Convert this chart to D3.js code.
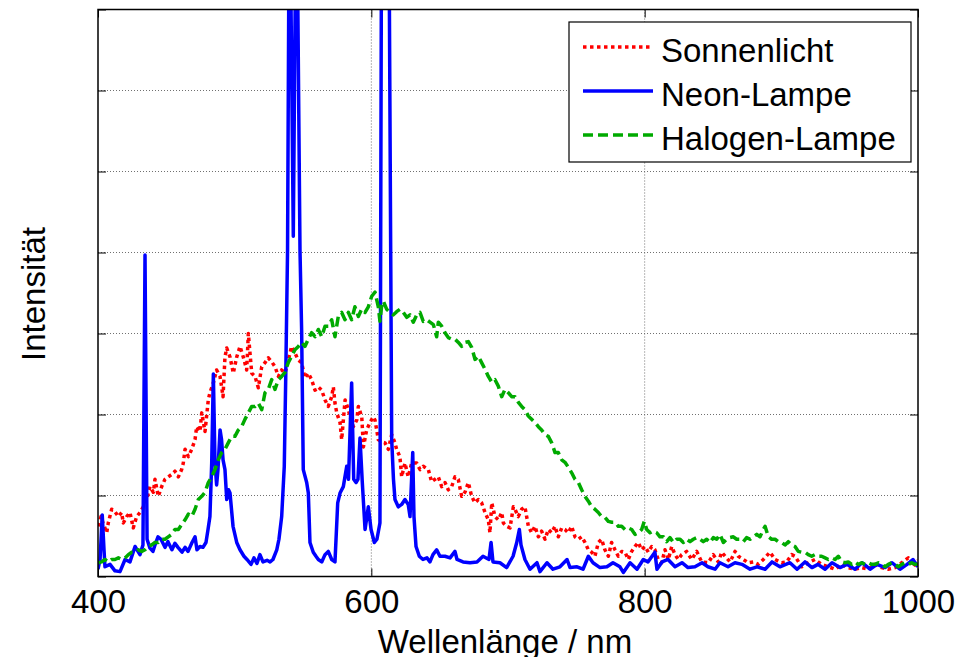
<!DOCTYPE html>
<meta charset="utf-8">
<style>
  body {
    margin: 0;
    background: #fff;
  }
  text {
    font-family: "Liberation Sans", Arial, sans-serif;
    fill: #000;
  }
  .grid line {
    stroke: #707070;
    stroke-width: 1;
    stroke-dasharray: 1,2;
  }
  .axis path {
    display: none;
  }
  .axis line {
    stroke: #000;
  }
  path.series {
    fill: none;
    stroke-width: 3.5;
    stroke-linejoin: round;
  }
</style>

<body>

  <div id="chart"></div>

  <script src="https://d3js.org/d3.v7.min.js"></script>

  <script>

    // [wavelength nm, intensity]
    var sunlight = [[400.2,0.62],[402.2,0.74],[403.7,0.66],[406.4,0.54],[407.5,0.66],[410.0,0.83],[412.4,0.80],[414.9,0.74],[417.3,0.79],[418.5,0.66],[421.0,0.74],[423.4,0.79],[425.8,0.60],[428.3,0.74],[430.7,0.79],[433.1,0.86],[435.6,0.95],[438.0,1.11],[440.5,1.04],[441.7,1.20],[444.1,0.99],[446.6,1.11],[449.0,1.20],[451.4,1.23],[453.9,1.26],[456.3,1.30],[458.8,1.23],[461.2,1.32],[462.4,1.40],[463.7,1.57],[466.1,1.48],[468.6,1.57],[471.0,1.69],[472.2,1.85],[474.6,1.79],[475.9,2.02],[478.3,1.79],[480.7,2.18],[481.9,2.27],[484.4,2.39],[486.8,2.55],[489.3,2.47],[491.5,2.22],[492.9,2.71],[494.2,2.82],[496.6,2.71],[499.0,2.51],[501.5,2.71],[503.9,2.84],[506.3,2.71],[508.8,2.55],[510.0,3.00],[511.2,2.76],[512.5,2.51],[514.9,2.47],[517.3,2.33],[519.8,2.59],[522.2,2.64],[524.6,2.70],[527.1,2.65],[529.5,2.59],[532.0,2.47],[534.4,2.55],[536.8,2.51],[539.2,2.67],[541.7,2.84],[544.1,2.76],[546.6,2.67],[549.0,2.64],[551.4,2.45],[553.9,2.51],[556.3,2.43],[558.8,2.30],[561.2,2.34],[563.7,2.30],[566.1,2.18],[568.5,2.10],[571.0,2.22],[572.2,2.34],[573.4,2.14],[574.7,2.02],[577.1,1.90],[578.3,1.69],[580.8,2.18],[583.2,2.06],[584.4,1.97],[586.8,1.85],[589.3,1.93],[590.5,2.10],[593.0,1.97],[594.2,1.60],[596.6,1.81],[599.0,1.90],[601.4,1.97],[602.7,1.93],[605.1,1.69],[607.6,1.66],[610.0,1.65],[612.4,1.57],[614.9,1.75],[617.3,1.65],[618.5,1.57],[620.9,1.48],[622.2,1.23],[624.6,1.40],[627.0,1.23],[629.5,1.40],[633.2,1.40],[635.6,1.32],[638.0,1.36],[641.7,1.32],[644.1,1.17],[646.6,1.20],[649.0,1.23],[651.5,1.11],[653.9,1.16],[656.3,1.07],[658.8,1.11],[661.2,1.23],[663.6,1.20],[666.1,0.99],[668.5,1.04],[671.0,1.16],[673.4,0.99],[675.8,0.91],[678.3,0.95],[680.7,0.91],[683.2,0.79],[685.6,0.70],[686.8,0.54],[688.1,0.91],[690.5,0.74],[692.9,0.70],[695.4,0.79],[696.6,0.66],[699.0,0.62],[701.5,0.60],[703.9,0.86],[705.1,0.83],[707.5,0.74],[710.0,0.83],[712.4,0.86],[714.9,0.62],[717.3,0.54],[719.7,0.62],[722.2,0.49],[724.6,0.56],[727.1,0.46],[729.5,0.58],[731.9,0.54],[734.4,0.62],[736.8,0.49],[739.3,0.60],[741.7,0.58],[744.1,0.54],[746.6,0.62],[749.0,0.49],[751.4,0.46],[753.9,0.49],[756.3,0.42],[758.8,0.33],[761.2,0.30],[763.6,0.25],[766.1,0.42],[768.5,0.46],[770.9,0.33],[773.4,0.25],[775.8,0.42],[778.3,0.33],[780.7,0.25],[783.2,0.31],[785.6,0.30],[788.0,0.21],[790.5,0.31],[792.9,0.37],[795.3,0.42],[797.8,0.33],[800.2,0.37],[802.7,0.30],[805.1,0.37],[807.5,0.33],[809.9,0.21],[812.4,0.17],[814.9,0.33],[817.3,0.21],[819.8,0.37],[822.2,0.27],[824.6,0.21],[827.1,0.27],[830.7,0.31],[834.4,0.21],[838.1,0.31],[841.7,0.18],[846.6,0.17],[850.2,0.27],[853.9,0.18],[856.4,0.30],[858.8,0.25],[862.5,0.18],[866.1,0.31],[868.5,0.25],[872.2,0.21],[875.8,0.17],[879.5,0.18],[883.1,0.15],[886.8,0.21],[891.7,0.30],[895.4,0.21],[900.2,0.17],[903.9,0.18],[907.6,0.27],[910.0,0.25],[914.9,0.12],[919.7,0.17],[924.6,0.21],[929.5,0.15],[934.4,0.12],[939.3,0.09],[944.2,0.15],[949.0,0.11],[953.9,0.09],[958.8,0.11],[963.6,0.09],[968.5,0.15],[973.4,0.11],[978.3,0.09],[983.2,0.11],[988.1,0.17],[992.9,0.23],[996.6,0.12],[1000,0.20]];

    // peaks above the frame are set to 9 and clipped
    var neon = [[400.0,0.09],[401.5,0.21],[403.1,0.76],[404.4,0.33],[405.1,0.12],[408.8,0.15],[412.4,0.07],[416.1,0.06],[419.8,0.21],[423.4,0.18],[427.1,0.37],[430.7,0.27],[432.9,0.39],[434.4,3.97],[435.9,0.46],[438.0,0.35],[440.2,0.31],[441.7,0.39],[443.9,0.49],[446.1,0.46],[449.0,0.36],[451.2,0.43],[454.1,0.33],[456.3,0.41],[458.5,0.36],[461.5,0.30],[463.7,0.36],[465.9,0.31],[468.8,0.42],[471.0,0.49],[472.4,0.33],[474.6,0.37],[476.8,0.36],[479.0,0.42],[480.5,0.58],[481.9,0.74],[483.2,1.40],[484.4,2.50],[485.6,1.40],[486.8,1.13],[487.8,1.32],[489.3,1.81],[490.4,1.69],[491.5,1.44],[492.9,1.32],[494.2,0.95],[495.5,1.07],[496.6,1.03],[498.8,0.62],[501.5,0.42],[503.9,0.33],[506.8,0.25],[509.0,0.21],[512.0,0.15],[514.1,0.23],[516.3,0.16],[518.5,0.27],[520.7,0.18],[523.7,0.20],[525.9,0.18],[528.0,0.21],[530.8,0.33],[532.4,0.46],[534.4,0.74],[536.3,1.36],[537.3,2.39],[538.7,4.03],[540.1,9],[542.9,4.20],[545.2,9],[547.8,4.03],[549.0,3.04],[550.2,1.32],[552.7,1.16],[553.9,1.03],[555.1,0.42],[557.5,0.30],[559.5,0.25],[561.2,0.21],[563.7,0.18],[566.1,0.27],[568.5,0.31],[571.0,0.21],[573.4,0.18],[575.4,0.91],[577.1,1.03],[579.5,1.11],[582.0,1.36],[583.3,1.20],[585.6,2.39],[587.1,1.20],[588.8,1.16],[590.2,1.20],[591.7,1.71],[593.4,1.16],[595.4,0.58],[597.8,0.86],[599.8,0.58],[602.2,0.42],[604.1,0.46],[606.3,0.66],[607.6,9],[612.6,9],[614.9,1.69],[616.2,1.20],[617.3,0.95],[619.7,0.86],[622.2,0.89],[624.6,0.95],[627.0,0.89],[628.3,0.74],[630.3,1.53],[631.2,0.74],[632.7,0.37],[635.1,0.25],[637.8,0.21],[640.7,0.23],[642.9,0.18],[645.1,0.27],[647.8,0.33],[650.2,0.25],[653.9,0.25],[657.6,0.23],[661.2,0.31],[662.7,0.21],[667.1,0.18],[672.2,0.17],[677.3,0.18],[681.7,0.25],[686.1,0.21],[687.6,0.42],[689.0,0.18],[694.1,0.17],[699.0,0.11],[703.7,0.25],[706.4,0.42],[708.3,0.58],[709.5,0.39],[712.4,0.21],[716.1,0.09],[721.2,0.17],[723.4,0.06],[728.5,0.17],[732.9,0.09],[738.0,0.12],[743.2,0.21],[745.4,0.11],[750.5,0.12],[754.9,0.09],[758.8,0.25],[762.2,0.17],[767.3,0.11],[772.4,0.12],[776.8,0.17],[781.9,0.12],[784.4,0.05],[789.3,0.17],[794.4,0.09],[799.0,0.21],[802.4,0.18],[805.4,0.25],[807.5,0.30],[809.0,0.09],[812.7,0.18],[817.1,0.21],[822.2,0.12],[827.3,0.17],[831.7,0.11],[836.8,0.12],[842.0,0.17],[846.3,0.12],[851.5,0.09],[855.1,0.17],[861.0,0.12],[866.1,0.17],[871.2,0.15],[877.1,0.09],[882.2,0.12],[888.1,0.09],[893.2,0.18],[899.0,0.12],[906.3,0.17],[911.5,0.09],[917.3,0.18],[922.4,0.11],[926.8,0.15],[932.0,0.09],[937.1,0.17],[942.9,0.11],[948.0,0.15],[953.9,0.09],[959.0,0.17],[964.9,0.09],[970.0,0.15],[975.9,0.11],[981.0,0.17],[986.8,0.09],[992.0,0.15],[996.3,0.21],[1000,0.12]];

    var halogen = [[400.2,0.17],[402.7,0.18],[405.1,0.21],[407.5,0.18],[410.0,0.21],[412.4,0.21],[414.9,0.23],[417.3,0.21],[419.8,0.23],[422.2,0.27],[424.7,0.30],[427.1,0.30],[429.5,0.33],[432.0,0.31],[434.4,0.33],[436.8,0.37],[439.3,0.39],[441.7,0.42],[444.1,0.42],[446.6,0.46],[449.0,0.46],[451.4,0.49],[453.9,0.52],[456.3,0.58],[458.8,0.58],[461.2,0.64],[463.7,0.70],[466.1,0.77],[468.6,0.74],[471.0,0.83],[473.4,0.95],[475.9,0.99],[478.3,1.04],[480.7,1.16],[483.2,1.23],[485.6,1.32],[488.0,1.44],[490.5,1.53],[492.9,1.57],[495.3,1.65],[497.8,1.73],[500.2,1.73],[502.7,1.81],[505.1,1.85],[507.5,1.94],[510.0,2.02],[512.5,2.10],[514.9,2.10],[517.3,2.14],[519.8,2.06],[522.2,2.27],[524.6,2.31],[527.1,2.43],[529.5,2.31],[532.0,2.43],[534.4,2.47],[536.8,2.52],[539.2,2.64],[541.7,2.72],[544.1,2.80],[546.6,2.84],[549.0,2.89],[551.4,2.84],[553.9,2.93],[556.3,3.01],[558.8,2.96],[561.2,3.05],[563.7,2.96],[566.1,3.09],[568.5,3.09],[571.0,3.17],[573.4,2.96],[575.8,3.21],[578.3,3.26],[580.7,3.17],[583.2,3.26],[585.6,3.17],[588.0,3.33],[590.5,3.21],[592.9,3.30],[595.4,3.26],[597.8,3.33],[600.3,3.46],[602.7,3.51],[605.1,3.33],[606.3,3.15],[607.5,3.33],[608.8,3.40],[611.2,3.30],[613.7,3.26],[616.1,3.23],[618.5,3.27],[621.0,3.30],[623.4,3.26],[625.9,3.20],[628.3,3.23],[630.7,3.14],[633.2,3.23],[635.6,3.26],[638.0,3.15],[640.5,3.17],[642.9,3.14],[645.4,3.11],[647.8,2.96],[649.0,3.14],[651.5,3.09],[653.9,3.01],[656.3,2.95],[658.8,2.93],[661.2,2.93],[663.7,2.89],[666.1,2.84],[668.5,2.89],[671.0,2.90],[673.4,2.83],[675.9,2.68],[678.3,2.72],[680.7,2.64],[683.2,2.56],[685.6,2.47],[688.1,2.40],[690.5,2.43],[692.9,2.35],[695.4,2.22],[697.8,2.31],[700.2,2.27],[702.7,2.22],[705.1,2.22],[707.6,2.15],[710.0,2.10],[712.4,2.06],[714.9,1.98],[717.3,1.94],[719.8,1.90],[722.2,1.85],[724.6,1.81],[727.1,1.75],[729.5,1.73],[732.0,1.65],[734.4,1.53],[736.8,1.53],[739.3,1.44],[741.7,1.41],[744.1,1.35],[746.6,1.28],[749.0,1.20],[751.5,1.16],[753.9,1.07],[756.3,0.99],[758.8,0.93],[761.2,0.86],[763.6,0.83],[766.1,0.79],[768.5,0.74],[771.0,0.73],[773.4,0.68],[775.9,0.67],[778.3,0.67],[780.7,0.62],[783.2,0.62],[785.6,0.58],[788.0,0.60],[790.5,0.58],[792.9,0.52],[795.4,0.54],[797.8,0.58],[799.7,0.68],[801.5,0.58],[803.9,0.54],[806.3,0.56],[808.8,0.54],[811.2,0.49],[813.7,0.49],[816.1,0.43],[818.5,0.48],[821.0,0.42],[823.4,0.46],[825.9,0.46],[828.3,0.42],[830.7,0.46],[833.2,0.43],[835.6,0.46],[838.1,0.48],[840.5,0.46],[842.9,0.43],[845.4,0.46],[847.8,0.42],[850.2,0.48],[852.7,0.46],[855.1,0.52],[857.6,0.42],[860.0,0.46],[862.4,0.48],[864.9,0.49],[867.3,0.46],[869.8,0.46],[872.2,0.43],[874.6,0.48],[877.1,0.46],[879.5,0.49],[882.0,0.52],[884.4,0.49],[886.8,0.58],[888.1,0.62],[890.5,0.49],[892.9,0.46],[895.4,0.46],[897.8,0.43],[900.3,0.42],[902.7,0.39],[905.1,0.43],[907.6,0.39],[910.0,0.37],[912.4,0.31],[914.9,0.30],[917.3,0.30],[919.7,0.27],[922.2,0.25],[924.6,0.27],[927.1,0.25],[929.5,0.25],[932.0,0.23],[934.4,0.21],[936.8,0.23],[939.3,0.21],[941.7,0.25],[944.2,0.18],[946.6,0.17],[949.0,0.18],[951.5,0.15],[953.9,0.18],[956.3,0.15],[958.8,0.17],[961.2,0.15],[963.7,0.17],[966.1,0.15],[968.5,0.15],[971.0,0.17],[973.4,0.15],[975.9,0.12],[978.3,0.15],[980.7,0.17],[983.2,0.15],[985.6,0.12],[988.1,0.15],[990.5,0.17],[993.0,0.15],[995.4,0.17],[997.8,0.15],[1000,0.15]];

    var seriesNames = ["Sonnenlicht", "Neon-Lampe", "Halogen-Lampe"],
        seriesColors = ["#ff0000", "#0000ff", "#00aa00"],
        seriesDash = ["3.5,3.5", null, "10,5"],
        xTicks = [400, 600, 800, 1000],
        yTicks = [0, 1, 2, 3, 4, 5, 6, 7],
        xLabel = "Wellenlänge / nm",
        yLabel = "Intensität";

    var W = 975,
        H = 657,
        margin = {top: 9.5, right: 57, bottom: 80.5, left: 98},
        width = W - margin.left - margin.right,
        height = H - margin.top - margin.bottom;

    var x = d3.scaleLinear().domain([400, 1000]).range([0, width]),
        y = d3.scaleLinear().domain([0, 7]).range([height, 0]);

    var svg = d3.select("#chart").append("svg")
                .attr("width", W)
                .attr("height", H),

        g = svg.append("g")
                .attr("transform", "translate(" + margin.left + "," + margin.top + ")");

    g.append("clipPath")
        .attr("id", "plot-clip")
      .append("rect")
        .attr("width", width)
        .attr("height", height);

    // dotted grid
    var grid = g.append("g").attr("class", "grid");

    grid.selectAll("line.gx")
        .data(xTicks.slice(1, -1))
      .enter().append("line")
        .attr("x1", function(d) { return x(d); })
        .attr("x2", function(d) { return x(d); })
        .attr("y1", 0)
        .attr("y2", height);

    grid.selectAll("line.gy")
        .data(yTicks.slice(1, -1))
      .enter().append("line")
        .attr("x1", 0)
        .attr("x2", width)
        .attr("y1", function(d) { return y(d); })
        .attr("y2", function(d) { return y(d); });

    // spectra
    var line = d3.line()
                  .x(function(d) { return x(d[0]); })
                  .y(function(d) { return y(d[1]); });

    var series = [sunlight, neon, halogen];

    g.append("g")
        .attr("clip-path", "url(#plot-clip)")
      .selectAll("path.series")
        .data(series)
      .enter().append("path")
        .attr("class", "series")
        .attr("d", line)
        .style("stroke", function(d, i) { return seriesColors[i]; })
        .style("stroke-dasharray", function(d, i) { return seriesDash[i]; });

    // inward ticks on all four sides
    var noLabel = function() { return ""; };

    g.append("g")
        .attr("class", "axis")
        .attr("transform", "translate(0," + height + ")")
        .call(d3.axisBottom(x).tickValues(xTicks).tickSize(-8).tickPadding(13).tickFormat(d3.format("d")))
        .call(function(a) {
          a.selectAll("text")
            .style("font-size", "33px")
            .style("font-family", "'Liberation Sans', Arial, sans-serif");
        });

    g.append("g")
        .attr("class", "axis")
        .call(d3.axisTop(x).tickValues(xTicks).tickSize(-8).tickFormat(noLabel));

    g.append("g")
        .attr("class", "axis")
        .call(d3.axisLeft(y).tickValues(yTicks).tickSize(-8).tickFormat(noLabel));

    g.append("g")
        .attr("class", "axis")
        .attr("transform", "translate(" + width + ",0)")
        .call(d3.axisRight(y).tickValues(yTicks).tickSize(-8).tickFormat(noLabel));

    g.append("rect")
        .attr("width", width)
        .attr("height", height)
        .style("fill", "none")
        .style("stroke", "#000")
        .style("stroke-width", 1.5);

    // axis titles
    svg.append("text")
        .attr("x", margin.left + width / 2 - 3)
        .attr("y", 653)
        .attr("text-anchor", "middle")
        .style("font-size", "33px")
        .text(xLabel);

    svg.append("text")
        .attr("transform", "translate(45," + (margin.top + height / 2 + 1) + ")rotate(-90)")
        .attr("text-anchor", "middle")
        .style("font-size", "33px")
        .text(yLabel);

    // legend
    var legend = svg.append("g")
                    .attr("transform", "translate(569,22)");

    legend.append("rect")
        .attr("width", 342)
        .attr("height", 140)
        .style("fill", "#fff")
        .style("stroke", "#000")
        .style("stroke-width", 1.2);

    var items = legend.selectAll("g.item")
                    .data(seriesNames)
                  .enter().append("g")
                    .attr("transform", function(d, i) {
                      return "translate(0," + (25 + i * 44) + ")";
                    });

    items.append("line")
        .attr("x1", 14)
        .attr("x2", 84)
        .style("stroke", function(d, i) { return seriesColors[i]; })
        .style("stroke-width", 3.5)
        .style("stroke-dasharray", function(d, i) { return seriesDash[i]; });

    items.append("text")
        .attr("x", 92)
        .attr("y", 14.5)
        .style("font-size", "33px")
        .text(function(d) { return d; });

  </script>

</body>
